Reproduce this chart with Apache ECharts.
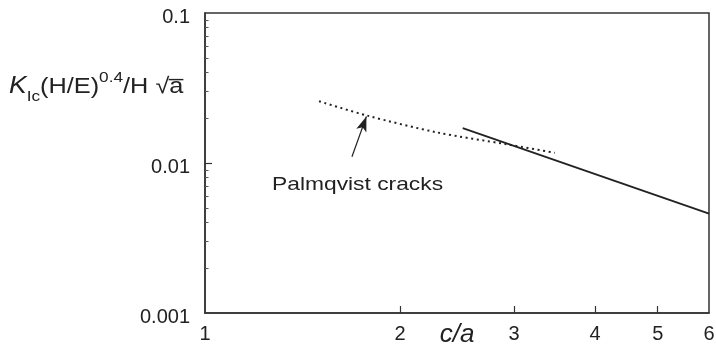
<!DOCTYPE html>
<html>
<head>
<meta charset="utf-8">
<script src="https://cdn.jsdelivr.net/npm/echarts@6/dist/echarts.min.js"></script>
<style>html,body{margin:0;padding:0;background:#fff}#c{width:716px;height:352px}</style>
</head>
<body>
<div id="c"></div>
<script>
// ---- data ----
var xTickValues = [1, 2, 3, 4, 5, 6];
var xMajorTicks = [2, 3, 4, 5];
var yTickValues = [0.001, 0.01, 0.1];
var yTickLabels = ['0.001', '0.01', '0.1'];
var yMinorTicks = [0.002, 0.003, 0.004, 0.005, 0.006, 0.007, 0.008, 0.009,
                   0.02, 0.03, 0.04, 0.05, 0.06, 0.07, 0.08, 0.09];
var palmqvistX = [1.50, 1.78, 2.28, 2.93, 3.47];
var palmqvistY = [0.0258, 0.0207, 0.0160, 0.0133, 0.0117];
var solidX = [2.5, 6];
var solidY = [0.0171, 0.0046];
var arrowFrom = [1.686, 0.0110];
var arrowTo = [1.775, 0.0204];
var annotationText = 'Palmqvist cracks';
var xName = 'c/a';

var FONT = '"Liberation Sans", Arial, sans-serif';
var INK = '#222';

function pairs(xs, ys) { return xs.map(function (x, i) { return [x, ys[i]]; }); }

var chart = echarts.init(document.getElementById('c'));
chart.setOption({
  animation: false,
  backgroundColor: '#fff',
  grid: { left: 205, right: 7, top: 13, bottom: 39, containLabel: false, outerBoundsMode: 'none',
          show: true, borderColor: '#333', borderWidth: 1.5, backgroundColor: 'transparent' },
  xAxis: {
    type: 'log', logBase: 10, min: 1, max: 6,
    axisLine: { show: true, lineStyle: { color: '#333', width: 1.5 } },
    axisTick: { show: true, inside: true, length: 7, customValues: xMajorTicks, lineStyle: { color: '#333', width: 1.2 } },
    axisLabel: { customValues: xTickValues, margin: 11, fontSize: 20, color: INK, fontFamily: FONT, hideOverlap: false,
                 formatter: function (v) { return String(Math.round(v)); } },
    splitLine: { show: false },
    minorTick: { show: false },
    name: xName, nameLocation: 'middle', nameGap: 9, nameMoveOverlap: false,
    nameTextStyle: { fontSize: 26, fontStyle: 'italic', color: INK, fontFamily: FONT, verticalAlign: 'top' }
  },
  yAxis: [{
    type: 'log', logBase: 10, min: 0.001, max: 0.1,
    axisLine: { show: true, lineStyle: { color: '#333', width: 1.5 } },
    axisTick: { show: true, inside: true, length: 7, customValues: [0.01], lineStyle: { color: '#333', width: 1.2 } },
    axisLabel: { customValues: yTickValues, margin: 15, fontSize: 20, color: INK, fontFamily: FONT, hideOverlap: false,
                 rich: { v: { fontSize: 20, fontFamily: FONT, color: INK, padding: [9, 0, 0, 0] } },
                 formatter: function (v) {
                   var best = 0;
                   for (var i = 0; i < yTickValues.length; i++) {
                     if (Math.abs(Math.log10(yTickValues[i]) - Math.log10(v)) < Math.abs(Math.log10(yTickValues[best]) - Math.log10(v))) best = i;
                   }
                   return '{v|' + yTickLabels[best] + '}';
                 } },
    splitLine: { show: false }
  }, {
    type: 'log', logBase: 10, min: 0.001, max: 0.1, position: 'left',
    axisLine: { show: false },
    axisTick: { show: true, inside: true, length: 3.5, customValues: yMinorTicks, lineStyle: { color: '#555', width: 1 } },
    axisLabel: { show: false },
    splitLine: { show: false }
  }],
  series: [{
    type: 'line', name: 'Palmqvist', data: pairs(palmqvistX, palmqvistY),
    smooth: 0.3, symbol: 'none',
    lineStyle: { color: INK, width: 2, type: [2, 3.6] },
    markLine: {
      silent: true, symbol: ['none', 'arrow'], symbolSize: [8, 15],
      label: { show: false },
      lineStyle: { color: INK, width: 1.2, type: 'solid' },
      data: [[{ coord: arrowFrom }, { coord: arrowTo }]]
    }
  }, {
    type: 'line', name: 'fit', data: pairs(solidX, solidY),
    symbol: 'none', lineStyle: { color: INK, width: 1.8 }
  }],
  graphic: [{
    type: 'text', x: 272, y: 185, scaleX: 1.2,
    style: { text: annotationText, font: '19px ' + FONT, fill: INK, align: 'left', verticalAlign: 'middle' }
  }, {
    type: 'text', x: 9, y: 87, scaleX: 1.15,
    style: {
      text: '{k|K}{sub|Ic}{n|(H/E)}{sup|0.4}{n|/H }{n|\u221Aa\u0305}',
      align: 'left', verticalAlign: 'middle', fill: INK,
      rich: {
        k: { fontSize: 23, fontStyle: 'italic', fontFamily: FONT, fill: INK, lineHeight: 34, verticalAlign: 'middle' },
        n: { fontSize: 22, fontFamily: FONT, fill: INK, lineHeight: 34, verticalAlign: 'middle' },
        sub: { fontSize: 15, fontFamily: FONT, fill: INK, lineHeight: 15, verticalAlign: 'bottom' },
        sup: { fontSize: 15, fontFamily: FONT, fill: INK, lineHeight: 15, verticalAlign: 'top' }
      }
    }
  }]
});
</script>
</body>
</html>
